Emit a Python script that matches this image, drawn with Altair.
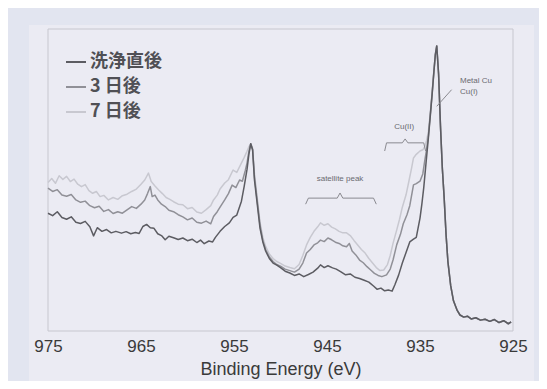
import altair as alt
import pandas as pd

# ---- data (Binding energy in eV, intensity in arbitrary units 0-100) ----
series_names = ["洗浄直後", "3 日後", "7 日後"]
series_colors = ["#5c5c62", "#909097", "#c8c8d0"]

dark_e = [975.0, 974.5, 974.0, 973.5, 973.0, 972.5, 972.0, 971.5, 971.0, 970.5, 970.1, 969.7, 969.2, 968.7,
          968.2, 967.7, 967.1, 966.6, 966.1, 965.6, 965.2, 964.8, 964.4, 964.0, 963.6, 963.2, 962.8, 962.4,
          962.0, 961.5, 961.0, 960.5, 960.0, 959.5, 959.0, 958.6, 958.2, 957.7, 957.3, 957.0, 956.5, 956.0,
          955.5, 955.1, 954.7, 954.2, 953.9, 953.6, 953.4, 953.2, 953.0, 952.8, 952.5, 952.2, 951.9, 951.6,
          951.2, 950.8, 950.4, 950.0, 949.5, 949.0, 948.5, 948.0, 947.5, 947.0, 946.5, 946.0, 945.7, 945.3,
          944.9, 944.4, 944.0, 943.5, 943.0, 942.5, 942.0, 941.5, 941.0, 940.5, 940.0, 939.6, 939.2, 938.8,
          938.4, 938.0, 937.7, 937.3, 936.9, 936.5, 936.1, 935.7, 935.4, 935.0, 934.8, 934.6, 934.4, 934.1,
          933.9, 933.7, 933.5, 933.35, 933.2]
dark_v = [39.0, 38.2, 39.5, 37.6, 37.0, 37.8, 36.0, 35.6, 36.3, 34.5, 31.5, 34.2, 33.0, 33.6,
          32.5, 33.0, 32.4, 32.9, 32.2, 32.6, 32.3, 34.6, 35.3, 34.2, 34.0, 32.2, 31.6, 30.2,
          31.4, 30.9, 30.3, 30.8, 29.9, 30.4, 29.3, 30.1, 28.9, 29.8, 29.5, 31.0, 33.0, 34.6,
          35.8, 37.6, 38.4, 43.0, 48.0, 53.5, 58.5, 62.0, 60.0, 50.0, 42.0, 34.0, 29.5, 26.5,
          24.0, 22.5, 21.8, 21.0, 19.8, 19.2, 18.4, 18.9, 18.0, 18.7, 19.5, 20.8, 21.9, 21.0,
          21.6, 20.9, 20.5, 19.6, 18.6, 18.9, 17.8, 17.4, 16.8, 16.2, 14.9, 13.8, 14.2, 13.3,
          13.6, 13.2, 15.3, 18.5, 22.5, 26.0, 29.5, 30.4, 31.0, 37.4, 42.0, 47.4, 54.0, 63.9,
          71.0, 78.2, 86.0, 91.5, 94.4]

mid_e = [975.0, 974.5, 974.0, 973.5, 973.0, 972.5, 972.0, 971.5, 971.0, 970.5, 970.0, 969.5, 969.0, 968.5,
         968.0, 967.5, 967.0, 966.5, 966.0, 965.5, 965.0, 964.6, 964.3, 964.0, 963.8, 963.5, 963.2, 962.8,
         962.4, 962.0, 961.5, 961.0, 960.5, 960.0, 959.5, 959.0, 958.5, 958.0, 957.5, 957.2, 956.8, 956.5,
         956.0, 955.6, 955.2, 954.8, 954.4, 954.1, 953.8, 953.6, 953.4, 953.2, 953.0, 952.8, 952.5, 952.2,
         951.9, 951.6, 951.2, 950.8, 950.4, 950.0, 949.5, 949.0, 948.5, 948.0, 947.6, 947.2, 946.8, 946.4,
         946.0, 945.7, 945.3, 944.9, 944.5, 944.1, 943.7, 943.3, 942.9, 942.6, 942.3, 941.9, 941.5, 941.1,
         940.7, 940.3, 939.9, 939.5, 939.1, 938.6, 938.2, 937.9, 937.5, 937.1, 936.8, 936.4, 936.1, 935.7,
         935.4, 935.0, 934.7, 934.5, 934.3, 934.1, 933.9, 933.7, 933.5, 933.35, 933.2]
mid_v = [47.3, 46.2, 46.8, 45.0, 44.6, 45.2, 43.4, 42.6, 43.0, 41.5, 40.8, 41.3, 39.6, 40.2,
         38.9, 39.5, 39.0, 40.1, 41.2, 40.6, 42.0, 43.4, 45.5, 47.8, 44.5, 45.0, 43.4, 42.0,
         41.2, 40.0, 39.5, 38.5, 37.8, 36.8, 37.4, 36.0, 35.7, 36.4, 35.5, 37.9, 39.5, 41.0,
         43.4, 45.5, 48.3, 47.5, 50.0, 49.6, 53.0, 55.6, 59.5, 62.0, 60.0, 51.0, 43.0, 35.0,
         30.0, 27.0, 24.5, 23.0, 22.0, 21.5, 20.5, 20.0, 19.5, 20.5, 22.5, 25.8, 27.0, 28.5,
         29.2, 30.1, 29.6, 30.8, 30.2, 29.4, 29.0, 28.2, 27.9, 29.0, 26.5, 25.2, 23.5, 22.6,
         21.3, 20.2, 19.1, 18.4, 18.0, 18.6, 20.5, 23.5, 28.6, 32.0, 35.5, 38.5, 41.5, 48.4,
         48.8, 49.6, 52.0, 56.2, 60.0, 64.5, 71.5, 78.5, 86.2, 91.5, 94.4]

light_e = [975.0, 974.6, 974.2, 973.8, 973.4, 973.0, 972.6, 972.2, 971.8, 971.4, 971.0, 970.6, 970.2, 969.8,
           969.4, 969.0, 968.5, 968.0, 967.5, 967.0, 966.5, 966.0, 965.5, 965.0, 964.6, 964.2, 963.9, 963.5,
           963.1, 962.7, 962.3, 961.9, 961.5, 961.0, 960.5, 960.0, 959.5, 959.0, 958.5, 958.0, 957.5, 957.2,
           956.8, 956.5, 956.0, 955.6, 955.1, 954.7, 954.3, 953.9, 953.6, 953.4, 953.2, 953.0, 952.8, 952.5,
           952.2, 951.9, 951.6, 951.2, 950.8, 950.4, 950.0, 949.5, 949.0, 948.5, 948.0, 947.6, 947.2, 946.8,
           946.4, 946.0, 945.7, 945.3, 944.9, 944.5, 944.1, 943.7, 943.3, 942.9, 942.5, 942.1, 941.7, 941.3,
           940.9, 940.5, 940.1, 939.7, 939.3, 938.9, 938.5, 938.2, 937.9, 937.5, 937.2, 936.9, 936.5, 936.2,
           935.9, 935.7, 935.4, 935.0, 934.7, 934.5, 934.3, 934.1, 933.9, 933.7, 933.5, 933.35, 933.2]
light_v = [49.2, 50.5, 48.9, 51.4, 50.2, 51.2, 49.5, 50.3, 48.6, 47.8, 48.5, 46.5, 45.6, 46.2,
           44.5, 44.9, 43.4, 44.2, 43.6, 44.8, 45.3, 46.2, 47.0, 48.6, 50.0, 52.3, 49.5, 48.0,
           46.7, 45.5, 44.2, 43.6, 42.8, 42.0, 41.8, 40.5, 40.9, 39.4, 39.0, 40.2, 41.5, 43.4,
           45.0, 47.0, 49.0, 50.1, 53.3, 52.5, 55.0, 57.5, 59.5, 61.0, 62.0, 60.5, 52.0, 44.0,
           36.0, 31.0, 28.0, 25.5, 24.0, 23.0, 22.4, 21.5, 21.0, 20.6, 22.0, 25.0, 28.5, 31.0,
           33.0, 34.5, 35.8, 35.0, 35.5, 34.4, 33.8, 33.0, 32.5, 32.5, 31.6, 30.0, 28.5, 27.0,
           25.8, 24.0, 22.5, 21.0, 20.0, 20.2, 22.0, 25.0, 29.0, 33.5, 37.0, 41.0, 45.1, 49.5,
           54.0, 57.3, 58.5, 59.6, 60.0, 61.0, 63.0, 66.0, 72.0, 79.0, 86.4, 91.5, 94.4]

# common high-energy-side tail after the main Cu 2p3/2 peak (curves overlap)
tail_e = [933.0, 932.8, 932.6, 932.4, 932.2, 932.0, 931.7, 931.4, 931.0, 930.7, 930.3, 929.9, 929.5,
          929.0, 928.5, 928.0, 927.5, 927.0, 926.5, 926.0, 925.5, 925.2]
tail_v = [85.0, 68.0, 54.0, 44.0, 32.0, 23.0, 15.0, 10.0, 6.8, 5.3, 4.6, 4.9, 4.0,
          4.4, 3.6, 3.9, 3.2, 3.8, 2.8, 3.4, 2.4, 3.0]

tick_values = [975, 965, 955, 945, 935, 925]

# annotations (energy, intensity)
label_text = ["satellite peak", "Cu(II)", "Metal Cu", "Cu(I)"]
label_e = [943.6, 936.7, 930.7, 930.7]
label_v = [50.3, 67.5, 82.8, 79.1]
label_align = ["center", "center", "left", "left"]

sat_brace_e = [947.3, 947.0, 943.9, 943.6, 943.3, 940.0, 939.7]
sat_brace_v = [42.0, 44.0, 44.0, 45.7, 44.0, 44.0, 42.0]
cu2_brace_e = [938.8, 938.6, 936.9, 936.6, 936.3, 934.6, 934.4]
cu2_brace_v = [59.6, 62.3, 62.3, 63.6, 62.3, 62.3, 59.6]
leader_e = [931.6, 933.2]
leader_v = [79.9, 74.4]

# ---- build tables ----
rows = []
for name, es, vs in [(series_names[0], dark_e, dark_v),
                     (series_names[1], mid_e, mid_v),
                     (series_names[2], light_e, light_v)]:
    for e, v in zip(es + tail_e, vs + tail_v):
        rows.append({"energy": e, "intensity": v, "series": name})
df = pd.DataFrame(rows)

ann = pd.DataFrame({"energy": label_e, "intensity": label_v, "text": label_text, "align": label_align})
braces = pd.DataFrame(
    [{"energy": e, "intensity": v, "grp": "sat", "k": i} for i, (e, v) in enumerate(zip(sat_brace_e, sat_brace_v))]
    + [{"energy": e, "intensity": v, "grp": "cu2", "k": i} for i, (e, v) in enumerate(zip(cu2_brace_e, cu2_brace_v))]
    + [{"energy": e, "intensity": v, "grp": "lead", "k": i} for i, (e, v) in enumerate(zip(leader_e, leader_v))]
)

W, H = 465, 302
xscale = alt.Scale(domain=[925, 975], reverse=True, nice=False, zero=False)
yscale = alt.Scale(domain=[0, 100], nice=False, zero=False)

xaxis = alt.Axis(values=tick_values, format="d", labelFontSize=17, labelFont="Liberation Sans",
                 labelColor="#3a3a3a", ticks=False, domain=False, grid=False, labelFlush=False,
                 labelPadding=7, title="Binding Energy (eV)", titleFontSize=18,
                 titleFont="Liberation Sans", titleFontWeight="normal", titleColor="#3a3a3a",
                 titlePadding=6, zindex=2)

one = alt.Data(values=[{"a": 1}])

panel = alt.Chart(one).mark_rect(color="#ebebf3", strokeWidth=0, clip=False).encode(
    x=alt.value(-19), x2=alt.value(486), y=alt.value(-4), y2=alt.value(400))
border = alt.Chart(one).mark_rect(fillOpacity=0, stroke="#c7c7cf", strokeWidth=1).encode(
    x=alt.value(0), x2=alt.value(W), y=alt.value(0), y2=alt.value(H))

color = alt.Color("series:N",
                  scale=alt.Scale(domain=series_names, range=series_colors),
                  legend=alt.Legend(orient="none", legendX=17, legendY=22, title=None,
                                    symbolType="stroke", symbolSize=400, symbolStrokeWidth=2,
                                    labelFontSize=18, labelFont="Noto Sans CJK JP",
                                    labelFontWeight="bold",
                                    labelColor="#505055", rowPadding=5, labelOffset=3, padding=0,
                                    zindex=2))

def curve(name):
    return alt.Chart(df).transform_filter(alt.datum.series == name).mark_line(
        strokeWidth=1.5, strokeJoin="round").encode(
        x=alt.X("energy:Q", scale=xscale, axis=xaxis),
        y=alt.Y("intensity:Q", scale=yscale, axis=None),
        color=color,
        order=alt.Order("energy:Q", sort="descending"))

lines = [curve(series_names[2]), curve(series_names[1]), curve(series_names[0])]

brace_layer = alt.Chart(braces).mark_line(color="#8a8a90", strokeWidth=1).encode(
    x=alt.X("energy:Q", scale=xscale, axis=xaxis),
    y=alt.Y("intensity:Q", scale=yscale, axis=None),
    detail="grp:N",
    order="k:Q")

text_center = alt.Chart(ann).transform_filter(alt.datum.align == "center").mark_text(
    fontSize=8, font="Liberation Sans", color="#6a6a70", align="center", baseline="middle").encode(
    x=alt.X("energy:Q", scale=xscale, axis=xaxis), y=alt.Y("intensity:Q", scale=yscale, axis=None),
    text="text:N")
text_left = alt.Chart(ann).transform_filter(alt.datum.align == "left").mark_text(
    fontSize=8, font="Liberation Sans", color="#6a6a70", align="left", baseline="middle").encode(
    x=alt.X("energy:Q", scale=xscale, axis=xaxis), y=alt.Y("intensity:Q", scale=yscale, axis=None),
    text="text:N")

chart = alt.layer(panel, border, *lines, brace_layer, text_center, text_left).properties(
    width=W, height=H,
    autosize=alt.AutoSizeParams(type="none"),
    padding={"left": 40, "top": 21, "right": 26, "bottom": 50},
    background="#e2e5f0",
).configure_view(stroke=None)

chart.save("out.html", embed_options={"renderer": "svg", "actions": False})
